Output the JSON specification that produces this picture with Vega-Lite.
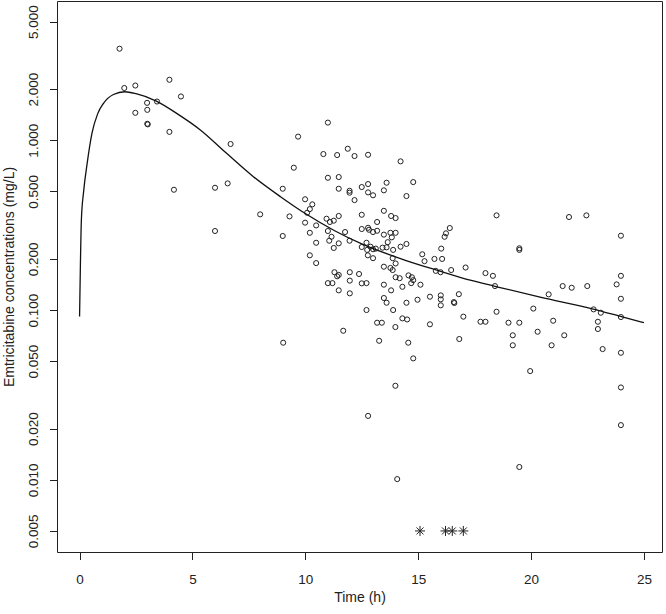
{
  "$schema": "https://vega.github.io/schema/vega-lite/v6.json",
  "autosize": {"type": "none"},
  "padding": {"left": 57, "top": 1, "right": 4, "bottom": 62},
  "width": 605,
  "height": 551,
  "background": "white",
  "config": {
    "view": {"stroke": "#222", "strokeWidth": 1},
    "axis": {
      "domain": false, "grid": false, "tickColor": "#222", "tickSize": 7.5, "tickWidth": 1,
      "labelFont": "Liberation Sans", "labelFontSize": 13.5, "labelColor": "#222",
      "titleFont": "Liberation Sans", "titleFontSize": 14, "titleFontWeight": "normal", "titleColor": "#222"
    }
  },
  "datasets": {
    "obs": [
      {"time": 1.77, "conc": 3.46}, {"time": 1.98, "conc": 2.03}, {"time": 2.47, "conc": 2.10}, {"time": 3.98, "conc": 2.27},
      {"time": 4.49, "conc": 1.81}, {"time": 2.99, "conc": 1.66}, {"time": 3.43, "conc": 1.69}, {"time": 3.0, "conc": 1.51},
      {"time": 2.47, "conc": 1.45}, {"time": 3.0, "conc": 1.25}, {"time": 3.02, "conc": 1.24}, {"time": 3.98, "conc": 1.12},
      {"time": 6.69, "conc": 0.95}, {"time": 9.68, "conc": 1.05}, {"time": 9.49, "conc": 0.689}, {"time": 4.18, "conc": 0.511},
      {"time": 6.0, "conc": 0.525}, {"time": 6.56, "conc": 0.557}, {"time": 9.0, "conc": 0.518}, {"time": 8.0, "conc": 0.366},
      {"time": 9.30, "conc": 0.356}, {"time": 6.0, "conc": 0.292}, {"time": 9.0, "conc": 0.273},
      {"time": 11.0, "conc": 1.27}, {"time": 10.80, "conc": 0.829}, {"time": 11.41, "conc": 0.818}, {"time": 11.88, "conc": 0.891},
      {"time": 12.18, "conc": 0.807}, {"time": 12.78, "conc": 0.821}, {"time": 14.22, "conc": 0.751}, {"time": 11.0, "conc": 0.601},
      {"time": 11.48, "conc": 0.607}, {"time": 11.48, "conc": 0.518}, {"time": 11.96, "conc": 0.504}, {"time": 11.96, "conc": 0.491},
      {"time": 12.18, "conc": 0.444}, {"time": 12.5, "conc": 0.530}, {"time": 12.78, "conc": 0.552}, {"time": 12.78, "conc": 0.493},
      {"time": 13.0, "conc": 0.474}, {"time": 13.48, "conc": 0.507}, {"time": 13.6, "conc": 0.562}, {"time": 14.78, "conc": 0.567},
      {"time": 14.48, "conc": 0.469}, {"time": 9.99, "conc": 0.449}, {"time": 10.31, "conc": 0.419}, {"time": 10.20, "conc": 0.393},
      {"time": 10.08, "conc": 0.374}, {"time": 9.99, "conc": 0.327}, {"time": 10.20, "conc": 0.285}, {"time": 10.48, "conc": 0.315},
      {"time": 10.94, "conc": 0.345}, {"time": 11.09, "conc": 0.330}, {"time": 11.48, "conc": 0.358}, {"time": 11.26, "conc": 0.336},
      {"time": 11.0, "conc": 0.292}, {"time": 11.16, "conc": 0.270}, {"time": 11.06, "conc": 0.256}, {"time": 11.26, "conc": 0.232},
      {"time": 11.48, "conc": 0.247}, {"time": 10.48, "conc": 0.249}, {"time": 10.20, "conc": 0.210}, {"time": 10.48, "conc": 0.189},
      {"time": 11.76, "conc": 0.288}, {"time": 11.96, "conc": 0.256}, {"time": 12.5, "conc": 0.364}, {"time": 12.5, "conc": 0.300},
      {"time": 12.78, "conc": 0.305}, {"time": 12.82, "conc": 0.297}, {"time": 13.0, "conc": 0.288}, {"time": 13.18, "conc": 0.330},
      {"time": 13.18, "conc": 0.293}, {"time": 13.48, "conc": 0.384}, {"time": 13.8, "conc": 0.358}, {"time": 14.0, "conc": 0.348},
      {"time": 13.48, "conc": 0.278}, {"time": 13.77, "conc": 0.285}, {"time": 14.0, "conc": 0.285}, {"time": 13.83, "conc": 0.268},
      {"time": 13.65, "conc": 0.251}, {"time": 12.5, "conc": 0.235}, {"time": 12.71, "conc": 0.249}, {"time": 12.74, "conc": 0.226},
      {"time": 12.89, "conc": 0.236}, {"time": 13.0, "conc": 0.228}, {"time": 12.77, "conc": 0.210}, {"time": 13.0, "conc": 0.202},
      {"time": 13.12, "conc": 0.230}, {"time": 13.42, "conc": 0.233}, {"time": 13.6, "conc": 0.234}, {"time": 13.89, "conc": 0.226},
      {"time": 14.22, "conc": 0.236}, {"time": 14.48, "conc": 0.245}, {"time": 13.87, "conc": 0.202}, {"time": 14.0, "conc": 0.188},
      {"time": 13.48, "conc": 0.180}, {"time": 13.77, "conc": 0.177}, {"time": 13.87, "conc": 0.172}, {"time": 11.29, "conc": 0.167},
      {"time": 11.48, "conc": 0.161}, {"time": 11.41, "conc": 0.158}, {"time": 11.97, "conc": 0.167}, {"time": 12.38, "conc": 0.163},
      {"time": 14.0, "conc": 0.156}, {"time": 14.18, "conc": 0.154}, {"time": 14.57, "conc": 0.160}, {"time": 14.72, "conc": 0.156},
      {"time": 15.18, "conc": 0.213}, {"time": 15.28, "conc": 0.194}, {"time": 15.72, "conc": 0.200}, {"time": 16.02, "conc": 0.230},
      {"time": 16.06, "conc": 0.200}, {"time": 16.17, "conc": 0.270}, {"time": 16.23, "conc": 0.283}, {"time": 16.4, "conc": 0.304},
      {"time": 15.78, "conc": 0.170}, {"time": 15.99, "conc": 0.167}, {"time": 16.46, "conc": 0.172}, {"time": 17.10, "conc": 0.178},
      {"time": 11.0, "conc": 0.144}, {"time": 11.2, "conc": 0.144}, {"time": 11.97, "conc": 0.149}, {"time": 12.5, "conc": 0.1436},
      {"time": 12.71, "conc": 0.144}, {"time": 11.48, "conc": 0.1306}, {"time": 11.97, "conc": 0.1254}, {"time": 13.48, "conc": 0.141},
      {"time": 13.80, "conc": 0.1306}, {"time": 14.30, "conc": 0.137}, {"time": 14.69, "conc": 0.144}, {"time": 14.78, "conc": 0.150},
      {"time": 15.10, "conc": 0.141}, {"time": 13.48, "conc": 0.1177}, {"time": 13.6, "conc": 0.1104}, {"time": 13.89, "conc": 0.100},
      {"time": 12.71, "conc": 0.100}, {"time": 14.48, "conc": 0.1104}, {"time": 14.97, "conc": 0.115}, {"time": 15.52, "conc": 0.1198},
      {"time": 16.0, "conc": 0.122}, {"time": 16.0, "conc": 0.1156}, {"time": 16.0, "conc": 0.1066}, {"time": 16.58, "conc": 0.1114},
      {"time": 16.6, "conc": 0.110}, {"time": 16.80, "conc": 0.124}, {"time": 17.0, "conc": 0.0914}, {"time": 16.82, "conc": 0.0675},
      {"time": 15.52, "conc": 0.0824}, {"time": 14.56, "conc": 0.0642}, {"time": 14.78, "conc": 0.0519}, {"time": 14.30, "conc": 0.0893},
      {"time": 14.51, "conc": 0.088}, {"time": 13.99, "conc": 0.0794}, {"time": 13.18, "conc": 0.0842}, {"time": 13.39, "conc": 0.0842},
      {"time": 13.27, "conc": 0.0659}, {"time": 11.68, "conc": 0.0755}, {"time": 9.02, "conc": 0.0642}, {"time": 13.99, "conc": 0.0358},
      {"time": 12.78, "conc": 0.0238}, {"time": 14.07, "conc": 0.0101},
      {"time": 18.47, "conc": 0.361}, {"time": 21.68, "conc": 0.353}, {"time": 22.45, "conc": 0.361}, {"time": 23.98, "conc": 0.274},
      {"time": 19.48, "conc": 0.231}, {"time": 19.48, "conc": 0.226}, {"time": 17.98, "conc": 0.165}, {"time": 18.31, "conc": 0.159},
      {"time": 18.40, "conc": 0.1384}, {"time": 18.47, "conc": 0.0977}, {"time": 17.76, "conc": 0.0853}, {"time": 17.98, "conc": 0.0853},
      {"time": 19.0, "conc": 0.0842}, {"time": 19.48, "conc": 0.0842}, {"time": 19.19, "conc": 0.071}, {"time": 19.19, "conc": 0.062},
      {"time": 19.96, "conc": 0.0437}, {"time": 20.1, "conc": 0.102}, {"time": 20.29, "conc": 0.0745}, {"time": 20.78, "conc": 0.1237},
      {"time": 20.98, "conc": 0.0865}, {"time": 20.91, "conc": 0.062}, {"time": 21.4, "conc": 0.1384}, {"time": 21.8, "conc": 0.1353},
      {"time": 21.47, "conc": 0.071}, {"time": 22.49, "conc": 0.1384}, {"time": 22.77, "conc": 0.1009}, {"time": 23.09, "conc": 0.0964},
      {"time": 22.96, "conc": 0.0853}, {"time": 22.96, "conc": 0.0773}, {"time": 23.17, "conc": 0.0589}, {"time": 23.79, "conc": 0.1416},
      {"time": 23.98, "conc": 0.159}, {"time": 23.98, "conc": 0.1165}, {"time": 23.98, "conc": 0.0909}, {"time": 23.98, "conc": 0.056},
      {"time": 23.98, "conc": 0.035}, {"time": 23.98, "conc": 0.021}, {"time": 19.48, "conc": 0.0119}
    ],
    "fit": [
      {"time": 0.0, "conc": 0.0915}, {"time": 0.03, "conc": 0.163}, {"time": 0.08, "conc": 0.34}, {"time": 0.18, "conc": 0.50},
      {"time": 0.33, "conc": 0.72}, {"time": 0.55, "conc": 1.10}, {"time": 0.8, "conc": 1.43}, {"time": 1.06, "conc": 1.65},
      {"time": 1.5, "conc": 1.86}, {"time": 2.0, "conc": 1.93}, {"time": 2.5, "conc": 1.88}, {"time": 3.4, "conc": 1.70},
      {"time": 4.3, "conc": 1.44}, {"time": 5.35, "conc": 1.15}, {"time": 6.5, "conc": 0.84}, {"time": 7.7, "conc": 0.61},
      {"time": 8.9, "conc": 0.465}, {"time": 10.0, "conc": 0.37}, {"time": 11.3, "conc": 0.293}, {"time": 12.5, "conc": 0.245},
      {"time": 14.4, "conc": 0.197}, {"time": 16.0, "conc": 0.169}, {"time": 17.3, "conc": 0.150}, {"time": 18.4, "conc": 0.138},
      {"time": 20.4, "conc": 0.119}, {"time": 22.8, "conc": 0.101}, {"time": 24.0, "conc": 0.0914}, {"time": 25.0, "conc": 0.0842}
    ],
    "blq": [
      {"time": 15.08, "conc": 0.005}, {"time": 16.21, "conc": 0.005}, {"time": 16.51, "conc": 0.005}, {"time": 17.0, "conc": 0.005}
    ]
  },
  "encoding": {
    "x": {
      "field": "time", "type": "quantitative",
      "scale": {"domain": [-1, 25.8], "nice": false, "zero": false},
      "axis": {"title": "Time (h)", "values": [0, 5, 10, 15, 20, 25], "format": "d", "labelPadding": 13,
               "titleY": 45.5, "titleBaseline": "middle"}
    },
    "y": {
      "field": "conc", "type": "quantitative",
      "scale": {"type": "log", "domain": [0.003758, 6.607], "nice": false},
      "axis": {"title": "Emtricitabine concentrations (mg/L)",
               "values": [0.005, 0.01, 0.02, 0.05, 0.1, 0.2, 0.5, 1, 2, 5], "format": ".3f",
               "labelAngle": -90, "labelAlign": "center", "labelBaseline": "bottom", "labelPadding": 9,
               "titleX": -48, "titleY": 275.5, "titleAngle": -90, "titleAlign": "center", "titleBaseline": "middle"}
    }
  },
  "layer": [
    {
      "data": {"name": "obs"},
      "mark": {"type": "point", "shape": "circle", "filled": false, "stroke": "#222", "strokeWidth": 1, "size": 26, "opacity": 1}
    },
    {
      "data": {"name": "fit"},
      "mark": {"type": "line", "color": "#111", "strokeWidth": 1.3, "interpolate": "monotone"}
    },
    {
      "data": {"name": "blq"},
      "mark": {"type": "point", "shape": "M-1,0L1,0M0,-1L0,1M-0.7,-0.7L0.7,0.7M-0.7,0.7L0.7,-0.7", "filled": false, "stroke": "#222", "strokeWidth": 1, "size": 100, "opacity": 1}
    }
  ]
}
